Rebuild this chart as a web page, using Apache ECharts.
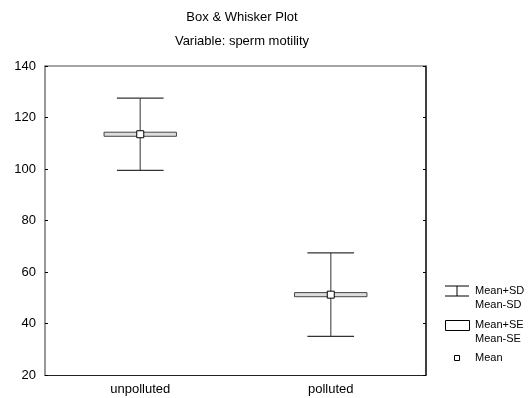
<!DOCTYPE html>
<html>
<head>
<meta charset="utf-8">
<script src="https://cdn.jsdelivr.net/npm/echarts@6/dist/echarts.min.js"></script>
<style>
  html, body { margin: 0; padding: 0; background: #fff; }
  #chart { width: 530px; height: 398px; }
</style>
</head>
<body>
<div id="chart"></div>
<script>
const categories = ['unpolluted', 'polluted'];
const means = [113.5, 51.2];
const sds = [14.0, 16.2];
const ses = [0.6, 0.6];
const yTicks = [20, 140, 20]; // min, max, step

const FONT = 'Liberation Sans, Arial, sans-serif';

const chart = echarts.init(document.getElementById('chart'), null, { renderer: 'canvas' });

function renderItem(params, api) {
  const idx = api.value(0);
  const mean = api.value(1);
  const sd = api.value(2);
  const se = api.value(3);
  const band = api.size([1, 0])[0];
  const c = api.coord([idx, mean]);
  const top = api.coord([idx, mean + sd]);
  const bot = api.coord([idx, mean - sd]);
  const seTop = api.coord([idx, mean + se]);
  const seBot = api.coord([idx, mean - se]);
  const boxW = band * 0.38;
  const capW = band * 0.245;
  const x = c[0];
  return {
    type: 'group',
    children: [
      { type: 'line', shape: { x1: x, y1: top[1], x2: x, y2: bot[1] },
        style: { stroke: '#777', lineWidth: 1.5 } },
      { type: 'line', shape: { x1: x - capW / 2, y1: top[1], x2: x + capW / 2, y2: top[1] },
        style: { stroke: '#333', lineWidth: 1.2 } },
      { type: 'line', shape: { x1: x - capW / 2, y1: bot[1], x2: x + capW / 2, y2: bot[1] },
        style: { stroke: '#333', lineWidth: 1.2 } },
      { type: 'rect', shape: { x: x - boxW / 2, y: seTop[1] - 0.5, width: boxW, height: Math.max(seBot[1] - seTop[1], 2) + 1 },
        style: { fill: '#ddd', stroke: '#444', lineWidth: 1 } },
      { type: 'rect', shape: { x: x - 3.5, y: c[1] - 3.5, width: 7, height: 7 },
        style: { fill: '#fff', stroke: '#000', lineWidth: 1 } }
    ]
  };
}

const legendX = 445, legendTx = 475;
const legendText = { fill: '#000', font: '11px ' + FONT, textVerticalAlign: 'middle' };

chart.setOption({
  animation: false,
  backgroundColor: '#fff',
  title: {
    text: 'Box & Whisker Plot\nVariable: sperm motility',
    left: 237,
    textAlign: 'center',
    top: 0,
    textStyle: { fontFamily: FONT, fontSize: 13, fontWeight: 'normal', color: '#000', lineHeight: 24 }
  },
  grid: { left: 45, right: 104, top: 66, bottom: 23 },
  xAxis: [
    {
      type: 'category', data: categories, position: 'bottom',
      axisLine: { lineStyle: { color: '#222', width: 1 } },
      axisTick: { inside: true, length: 3, lineStyle: { color: '#000' } },
      axisLabel: { color: '#000', fontFamily: FONT, fontSize: 13, margin: 8 }
    },
    {
      type: 'category', data: categories, position: 'top',
      axisLine: { lineStyle: { color: '#888', width: 1.5 } },
      axisTick: { inside: true, length: 3, lineStyle: { color: '#000' } },
      axisLabel: { show: false }
    }
  ],
  yAxis: [
    {
      type: 'value', min: yTicks[0], max: yTicks[1], interval: yTicks[2], position: 'left',
      axisLine: { show: true, lineStyle: { color: '#777', width: 1.5 } },
      axisTick: { show: true, inside: true, length: 3, lineStyle: { color: '#000' } },
      axisLabel: { color: '#000', fontFamily: FONT, fontSize: 13, margin: 9 },
      splitLine: { show: false }
    },
    {
      type: 'value', min: yTicks[0], max: yTicks[1], interval: yTicks[2], position: 'right',
      axisLine: { show: true, lineStyle: { color: '#000', width: 1.5 } },
      axisTick: { show: true, inside: true, length: 3, lineStyle: { color: '#000' } },
      axisLabel: { show: false },
      splitLine: { show: false }
    }
  ],
  series: [{
    type: 'custom',
    renderItem: renderItem,
    encode: { x: 0, y: 1 },
    data: categories.map((c, i) => [i, means[i], sds[i], ses[i]]),
    z: 5
  }],
  graphic: [
    { type: 'line', shape: { x1: legendX, y1: 286, x2: legendX + 24, y2: 286 }, style: { stroke: '#000', lineWidth: 1 } },
    { type: 'line', shape: { x1: legendX, y1: 296, x2: legendX + 24, y2: 296 }, style: { stroke: '#000', lineWidth: 1 } },
    { type: 'line', shape: { x1: legendX + 12, y1: 286, x2: legendX + 12, y2: 296 }, style: { stroke: '#000', lineWidth: 1 } },
    { type: 'text', x: legendTx, y: 291, style: Object.assign({ text: 'Mean+SD' }, legendText) },
    { type: 'text', x: legendTx, y: 305, style: Object.assign({ text: 'Mean-SD' }, legendText) },
    { type: 'rect', shape: { x: legendX + 0.5, y: 320.5, width: 24, height: 10 }, style: { fill: '#fff', stroke: '#000', lineWidth: 1 } },
    { type: 'text', x: legendTx, y: 325, style: Object.assign({ text: 'Mean+SE' }, legendText) },
    { type: 'text', x: legendTx, y: 339, style: Object.assign({ text: 'Mean-SE' }, legendText) },
    { type: 'rect', shape: { x: legendX + 9.5, y: 355.5, width: 5, height: 5 }, style: { fill: '#fff', stroke: '#000', lineWidth: 1 } },
    { type: 'text', x: legendTx, y: 358, style: Object.assign({ text: 'Mean' }, legendText) }
  ]
});
</script>
</body>
</html>
